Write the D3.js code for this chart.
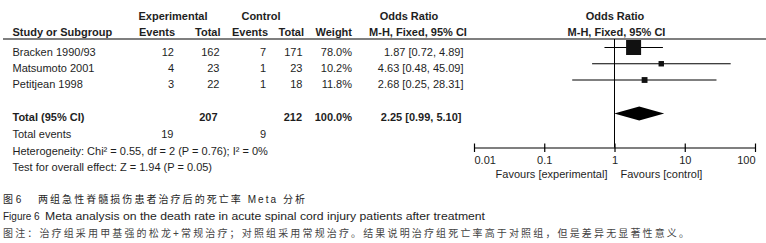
<!DOCTYPE html>
<html>
<head>
<meta charset="utf-8">
<script src="https://cdn.jsdelivr.net/npm/d3@7"></script>
<style>
  body { margin: 0; background: #fff; }
  svg { display: block; font-family: "Liberation Sans", Arial, sans-serif; }
  text { fill: #1e1e1e; font-size: 11px; }
  .b { font-weight: bold; }
  .cap { font-family: "Liberation Sans", "Noto Sans CJK SC", sans-serif; font-size: 10px; }
</style>
</head>
<body>
<svg width="766" height="243"></svg>
<script>
var width = 766, height = 243,
    svg = d3.select('svg');

var studies = ["Bracken 1990/93", "Matsumoto 2001", "Petitjean 1998"];
var expEvents = [12, 4, 3];
var expTotal = [162, 23, 22];
var ctlEvents = [7, 1, 1];
var ctlTotal = [171, 23, 18];
var weights = [78.0, 10.2, 11.8];
var oddsRatio = [1.87, 4.63, 2.68];
var ciLow = [0.72, 0.48, 0.25];
var ciHigh = [4.89, 45.09, 28.31];

var totalOR = [2.25, 0.99, 5.10];
var totalN = [207, 212];
var totalEvents = [19, 9];

var tickValues = [0.01, 0.1, 1, 10, 100];
var tickLabels = ["0.01", "0.1", "1", "10", "100"];

var xScale = d3.scaleLog()
    .domain([0.01, 100])
    .range([474, 755]);

var rowY = d3.scaleLinear()
    .domain([0, 2])
    .range([47.5, 80]);

var boxSize = d3.scaleSqrt()
    .domain([0, d3.max(weights)])
    .range([0, 15]);

var fmt2 = d3.format(".2f");
function ciText(o, l, h) {
    return fmt2(o) + " [" + fmt2(l) + ", " + fmt2(h) + "]";
}

// headers
function txt(x, y, s, anchor, cls) {
    return svg.append("text")
        .attr("x", x).attr("y", y)
        .attr("text-anchor", anchor || "start")
        .attr("class", cls || null)
        .text(s);
}
txt(173, 19.5, "Experimental", "middle", "b");
txt(261, 19.5, "Control", "middle", "b");
txt(409, 19.5, "Odds Ratio", "middle", "b");
txt(615, 19.5, "Odds Ratio", "middle", "b");
txt(12.5, 35.5, "Study or Subgroup", "start", "b");
txt(175, 35.5, "Events", "end", "b");
txt(220.5, 35.5, "Total", "end", "b");
txt(268, 35.5, "Events", "end", "b");
txt(304, 35.5, "Total", "end", "b");
txt(352, 35.5, "Weight", "end", "b");
txt(418, 35.5, "M-H, Fixed, 95% CI", "middle", "b");
txt(616.5, 35.5, "M-H, Fixed, 95% CI", "middle", "b");

svg.append("line")
    .attr("x1", 3).attr("x2", width)
    .attr("y1", 39).attr("y2", 39)
    .attr("stroke", "#000").attr("stroke-width", 1.2);

// study rows
var cols = [
    { x: 12.5, anchor: "start", val: function(i) { return studies[i]; } },
    { x: 174, anchor: "end", val: function(i) { return expEvents[i]; } },
    { x: 219.5, anchor: "end", val: function(i) { return expTotal[i]; } },
    { x: 266, anchor: "end", val: function(i) { return ctlEvents[i]; } },
    { x: 302.5, anchor: "end", val: function(i) { return ctlTotal[i]; } },
    { x: 352, anchor: "end", val: function(i) { return weights[i].toFixed(1) + "%"; } },
    { x: 463.5, anchor: "end", val: function(i) { return ciText(oddsRatio[i], ciLow[i], ciHigh[i]); } }
];

var rows = svg.selectAll("g.row")
    .data(d3.range(studies.length))
    .enter()
    .append("g")
    .attr("class", "row");

cols.forEach(function(c) {
    rows.append("text")
        .attr("x", c.x)
        .attr("y", function(i) { return rowY(i) + 8; })
        .attr("text-anchor", c.anchor)
        .text(function(i) { return c.val(i); });
});

// line of no effect
svg.append("line")
    .attr("x1", xScale(1)).attr("x2", xScale(1))
    .attr("y1", 39).attr("y2", 147.5)
    .attr("stroke", "#000").attr("stroke-width", 1);

rows.append("line")
    .attr("x1", function(i) { return xScale(ciLow[i]); })
    .attr("x2", function(i) { return xScale(ciHigh[i]); })
    .attr("y1", function(i) { return rowY(i); })
    .attr("y2", function(i) { return rowY(i); })
    .attr("stroke", "#000").attr("stroke-width", 1);

rows.append("rect")
    .attr("x", function(i) { return xScale(oddsRatio[i]) - boxSize(weights[i]) / 2; })
    .attr("y", function(i) { return rowY(i) - boxSize(weights[i]) / 2; })
    .attr("width", function(i) { return boxSize(weights[i]); })
    .attr("height", function(i) { return boxSize(weights[i]); })
    .attr("fill", "#111");

// total row
var totY = 113.5;
txt(12.5, totY + 7.5, "Total (95% CI)", "start", "b");
txt(217.5, totY + 7.5, totalN[0], "end", "b");
txt(302, totY + 7.5, totalN[1], "end", "b");
txt(352, totY + 7.5, d3.sum(weights).toFixed(1) + "%", "end", "b");
txt(461.5, totY + 7.5, ciText(totalOR[0], totalOR[1], totalOR[2]), "end", "b");

svg.append("path")
    .attr("d", "M" + xScale(totalOR[1]) + "," + totY +
               "L" + xScale(totalOR[0]) + "," + (totY - 7) +
               "L" + xScale(totalOR[2]) + "," + totY +
               "L" + xScale(totalOR[0]) + "," + (totY + 7) + "Z")
    .attr("fill", "#000");

txt(12.5, 138, "Total events");
txt(173.5, 138, totalEvents[0], "end");
txt(266, 138, totalEvents[1], "end");
txt(12.5, 154.5, "Heterogeneity: Chi\u00b2 = 0.55, df = 2 (P = 0.76); I\u00b2 = 0%");
txt(12.5, 170.5, "Test for overall effect: Z = 1.94 (P = 0.05)");

// axis
var xAxis = d3.axisBottom(xScale)
    .tickValues(tickValues)
    .tickSizeInner(4)
    .tickSizeOuter(0)
    .tickFormat(function(d, i) { return tickLabels[i]; });

var gAxis = svg.append("g")
    .attr("transform", "translate(0," + 147.5 + ")")
    .call(xAxis);

gAxis.select(".domain").attr("stroke", "#000").attr("stroke-width", 1.2);
gAxis.selectAll(".tick line").attr("y1", -4).attr("y2", 4.5).attr("stroke", "#000").attr("stroke-width", 1.2);
gAxis.selectAll(".tick text")
    .attr("y", 16.5).attr("dy", 0)
    .attr("fill", "#1e1e1e")
    .style("font-size", "11px")
    .style("font-family", "'Liberation Sans', Arial, sans-serif")
    .attr("text-anchor", function(d, i) {
        return i === 0 ? "start" : (i === tickValues.length - 1 ? "end" : "middle");
    });

txt(xScale(1) - 7, 177.5, "Favours [experimental]", "end");
txt(xScale(1) + 6, 177.5, "Favours [control]", "start");

// captions
var c1 = svg.append("text").attr("class", "cap").attr("y", 203);
c1.append("tspan").attr("x", 3).text("图 6");
c1.append("tspan").attr("x", 38).attr("textLength", 267).attr("lengthAdjust", "spacing")
    .text("两组急性脊髓损伤患者治疗后的死亡率 Meta 分析");

var c2 = svg.append("text").attr("class", "cap").attr("y", 219.5);
c2.append("tspan").attr("x", 3).text("Figure 6");
c2.append("tspan").attr("x", 45).attr("textLength", 440).attr("lengthAdjust", "spacingAndGlyphs")
    .text("Meta analysis on the death rate in acute spinal cord injury patients after treatment");

svg.append("text").attr("class", "cap").attr("x", 3).attr("y", 237)
    .attr("textLength", 686).attr("lengthAdjust", "spacing")
    .style("fill", "#444")
    .text("图注：治疗组采用甲基强的松龙+常规治疗；对照组采用常规治疗。结果说明治疗组死亡率高于对照组，但是差异无显著性意义。");
</script>
</body>
</html>
